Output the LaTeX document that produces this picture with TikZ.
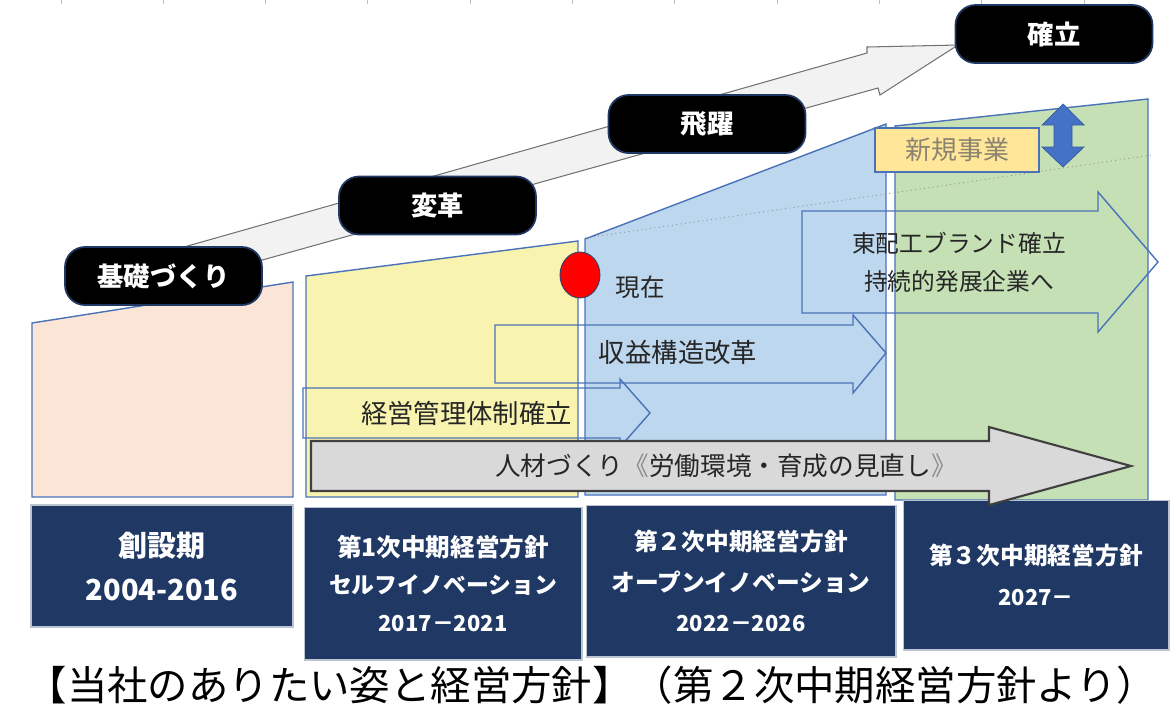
\documentclass[tikz,border=0pt]{standalone}
\usepackage{fontspec}
\setmainfont{Noto Sans CJK JP}
\usetikzlibrary{shapes.geometric}
\definecolor{navy}{HTML}{1F3864}
\definecolor{edge}{HTML}{4A72B8}
\definecolor{pinkfill}{HTML}{FBE5D6}
\definecolor{yellowfill}{HTML}{F9F3B0}
\definecolor{bluefill}{HTML}{BDD7EE}
\definecolor{greenfill}{HTML}{C5E0B4}
\definecolor{goldfill}{HTML}{FFE699}
\definecolor{arrowblue}{HTML}{4472C4}
\definecolor{newtext}{HTML}{8C8472}
\newcommand{\setfs}[1]{\fontsize{#1pt}{#1pt}\selectfont}

\begin{document}
\begin{tikzpicture}[x=0.02cm,y=-0.02cm,
    phase/.style={draw=navy,line width=1pt,fill=black,rounded corners=0.4cm,text=white,
        font=\bfseries\setfs{15},minimum width=3.94cm,minimum height=1.16cm},
    period/.style={draw=white!70!navy,line width=0.6pt,fill=navy,text=white,align=center,inner sep=0pt},
    area/.style={draw=edge,line width=0.8pt},
    plan/.style={draw=edge,line width=0.8pt},
    lab/.style={text=black!85,font=\setfs{15}}]
    \useasboundingbox (0,0) rectangle (1170,718);

    % ruler ticks along the top
    \foreach \k in {0,...,10}
        \draw[black!25,line width=0.5pt] ({61+102.3*\k},0) -- ({61+102.3*\k},4);

    % big growth arrow
    \draw[black!55,line width=0.6pt,fill=black!5] (170,251) -- (867,53) -- (867,47) -- (958,45)
        -- (880,95) -- (878,88) -- (180,283) -- cycle;

    % stages
    \draw[area,fill=pinkfill] (32,323) -- (293,282) -- (293,497) -- (32,497) -- cycle;
    \draw[area,fill=yellowfill] (306,276) -- (578,241) -- (578,497) -- (306,497) -- cycle;
    \draw[area,fill=bluefill] (585,239) -- (886,124) -- (886,495) -- (585,495) -- cycle;
    \draw[area,fill=greenfill] (895,126) -- (1148,99) -- (1148,500) -- (895,500) -- cycle;
    \draw[black!45,dotted,line width=0.5pt] (585,238) -- (1152,155);

    % plans
    \draw[plan] (303,388) -- (620,388) -- (620,379) -- (650,413) -- (620,447) -- (620,438) -- (303,438) -- cycle;
    \draw[plan] (495,325) -- (853,325) -- (853,315) -- (886,353) -- (853,393) -- (853,383) -- (495,383) -- cycle;
    \draw[plan] (802,211) -- (1098,211) -- (1098,192) -- (1158,262) -- (1098,332) -- (1098,313) -- (802,313) -- cycle;

    % periods
    \node[period,minimum width=5.24cm,minimum height=2.44cm,font=\bfseries\fontsize{16.5pt}{25pt}\selectfont]
        (sosetsu) at (162,566) {創設期\\2004-2016};
    \node[period,minimum width=5.56cm,minimum height=3.06cm,font=\bfseries\fontsize{13pt}{21.5pt}\selectfont]
        (first) at (443,583.5) {{\fontsize{14pt}{21.5pt}\selectfont 第1次中期経営方針}\\セルフイノベーション\\{\fontsize{12.5pt}{21.5pt}\selectfont 2017－2021}};
    \node[period,minimum width=6.2cm,minimum height=3.04cm,font=\bfseries\fontsize{13.5pt}{23pt}\selectfont]
        (second) at (741,581) {第２次中期経営方針\\オープンイノベーション\\{\fontsize{12.5pt}{23pt}\selectfont 2022－2026}};
    \node[period,minimum width=5.32cm,minimum height=3cm,font=\bfseries\fontsize{13.5pt}{23.5pt}\selectfont]
        (third) at (1036,575) {第３次中期経営方針\\{\fontsize{12.5pt}{23.5pt}\selectfont 2027－}};

    % people
    \draw[black!75,line width=1.2pt,fill=black!15] (311,441) -- (989,441) -- (989,427) -- (1131,466)
        -- (989,505) -- (989,491) -- (311,491) -- cycle;

    \node[ellipse,fill=red,draw=edge!60!black,line width=0.5pt,minimum width=0.8cm,minimum height=0.92cm,inner sep=0pt]
        (now) at (580,275) {};
    \node[draw=edge,fill=goldfill,line width=0.8pt,minimum width=3.28cm,minimum height=0.88cm,
        text=newtext,font=\setfs{14.8}] (shinki) at (957,150) {新規事業};
    \draw[fill=arrowblue,draw=arrowblue!80!black,line width=0.4pt] (1063,104) -- (1084,125) -- (1072,125) -- (1072,147)
        -- (1084,147) -- (1063,167) -- (1042,147) -- (1054,147) -- (1054,125) -- (1042,125) -- cycle;

    \node[phase] (kiso) at (163.5,276) {基礎づくり};
    \node[phase] (henkaku) at (437.5,205.5) {変革};
    \node[phase] (hiyaku) at (707,124) {飛躍};
    \node[phase] (kakuritsu) at (1054,34) {確立};

    \node[lab,font=\setfs{14}] (genzai) at (640,287) {現在};
    \node[lab] (keiei) at (466.5,413) {経営管理体制確立};
    \node[lab] (shueki) at (678,353) {収益構造改革};
    \node[lab,align=center,font=\fontsize{13.5pt}{22pt}\selectfont] (brand) at (959,262.5) {東配工ブランド確立\\持続的発展企業へ};
    \node[lab,font=\setfs{14.6}] (jinzai) at (726,466) {人材づくり{\color{black!45}《}労働環境・育成の見直し{\color{black!45}》}};

    \node[font=\setfs{23}] (caption) at (592,685) {【当社のありたい姿と経営方針】（第２次中期経営方針より）};
\end{tikzpicture}
\end{document}
